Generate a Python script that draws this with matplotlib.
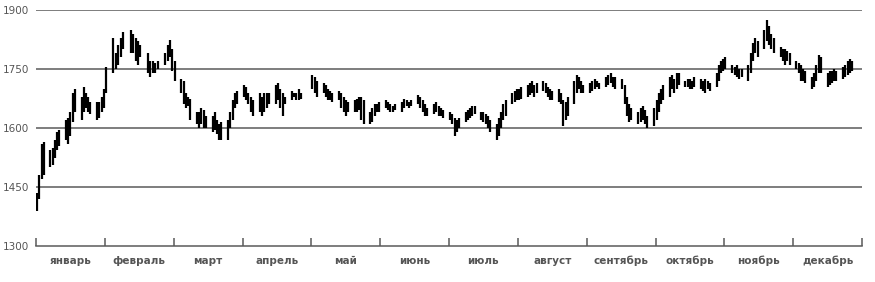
import numpy as np
import pandas as pd
import matplotlib
matplotlib.use('Agg')
import matplotlib.pyplot as plt

months = ['январь', 'февраль', 'март', 'апрель', 'май', 'июнь',
          'июль', 'август', 'сентябрь', 'октябрь', 'ноябрь', 'декабрь']
yticks = [1300, 1450, 1600, 1750, 1900]

# trading days (weekdays), nan = no bar
days = pd.bdate_range('2013-01-01', '2013-12-31')

low = [
    # jan
    1388, 1420, 1470, 1480, 1500, 1505, 1525, 1545, 1555, 1570, 1560, 1580,
    1615, 1640, 1620, 1640, 1650, 1640, 1635, 1620, 1625, 1640, 1650,
    # feb
    1690, 1740, 1750, 1760, 1780, 1800, 1790, 1790, 1770, 1760, 1780, 1740,
    1730, 1740, 1740, 1750, 1760, 1770, 1780, 1745,
    # mar
    1720, 1690, 1660, 1650, 1655, 1620, 1610, 1600, 1610, 1600, 1600, 1590,
    1595, 1585, 1570, 1570, 1570, 1600, 1620, 1650, 1660,
    # apr
    1680, 1670, 1660, 1640, 1630, 1640, 1630, 1640, 1650, 1660, 1660, 1670,
    1650, 1630, 1660, 1670, 1680, 1670, 1670, 1675, np.nan, np.nan,
    # may
    1700, 1690, 1680, 1690, 1680, 1670, 1670, 1665, 1670, 1650, 1640, 1630,
    1640, 1640, 1640, 1645, 1620, 1610, 1610, 1615, 1630, 1640, 1640,
    # jun
    1650, 1645, 1640, 1640, 1645, 1640, 1650, 1655, 1650, 1655, 1660, 1650,
    1640, 1630, 1630, 1635, 1640, 1630, 1630, 1625,
    # jul
    1620, 1610, 1580, 1590, 1600, 1615, 1620, 1625, 1630, 1635, 1620, 1615,
    1610, 1600, 1590, 1570, 1580, 1600, 1620, 1630, 1660, 1665, 1670,
    # aug
    1670, 1675, 1680, 1685, 1690, 1680, 1690, 1695, 1690, 1680, 1670, 1670,
    1665, 1660, 1605, 1620, 1630, 1660, 1690, 1700, 1690, 1690,
    # sep
    1690, 1695, 1700, 1705, 1700, 1705, 1710, 1715, 1705, 1700, 1700, 1660,
    1630, 1615, 1620, 1610, 1615, 1620, 1610, 1600, 1605,
    # oct
    1620, 1640, 1660, 1670, 1680, 1700, 1690, 1700, 1710, 1705, 1705, 1700,
    1700, 1705, 1700, 1695, 1690, 1700, 1695, 1705, 1720, 1740, 1745,
    # nov
    1750, 1740, 1735, 1730, 1725, 1730, 1720, 1740, 1770, 1790, 1780, 1800,
    1820, 1810, 1800, 1790, 1780, 1770, 1760, 1770, 1760,
    # dec
    1750, 1740, 1720, 1720, 1715, 1700, 1705, 1720, 1740, 1740, 1705, 1710,
    1715, 1720, 1720, 1725, 1730, 1735, 1740, 1745, np.nan, np.nan,
]
high = [
    # jan
    1435, 1480, 1560, 1565, 1545, 1550, 1570, 1590, 1595, 1620, 1625, 1640,
    1690, 1700, 1680, 1705, 1690, 1680, 1665, 1665, 1665, 1680, 1700,
    # feb
    1755, 1830, 1790, 1810, 1830, 1845, 1850, 1840, 1830, 1820, 1810, 1790,
    1770, 1770, 1765, 1770, 1790, 1810, 1825, 1800,
    # mar
    1770, 1725, 1720, 1690, 1680, 1675, 1640, 1640, 1650, 1645, 1630, 1630,
    1640, 1620, 1610, 1615, 1620, 1640, 1670, 1690, 1695,
    # apr
    1710, 1705, 1690, 1680, 1670, 1690, 1680, 1690, 1690, 1690, 1710, 1715,
    1700, 1690, 1680, 1695, 1690, 1690, 1700, 1690, np.nan, np.nan,
    # may
    1735, 1730, 1720, 1715, 1710, 1700, 1695, 1690, 1695, 1690, 1680, 1670,
    1665, 1670, 1675, 1680, 1680, 1670, 1640, 1650, 1660, 1660, 1665,
    # jun
    1670, 1665, 1660, 1655, 1660, 1665, 1675, 1670, 1665, 1670, 1685, 1680,
    1670, 1660, 1650, 1660, 1665, 1655, 1650, 1645,
    # jul
    1640, 1635, 1625, 1620, 1625, 1640, 1645, 1650, 1655, 1655, 1640, 1640,
    1635, 1630, 1620, 1610, 1625, 1640, 1660, 1670, 1690, 1695, 1700,
    # aug
    1700, 1705, 1710, 1715, 1720, 1710, 1715, 1720, 1715, 1705, 1700, 1695,
    1700, 1690, 1670, 1665, 1680, 1720, 1735, 1730, 1720, 1710,
    # sep
    1715, 1720, 1725, 1720, 1715, 1730, 1735, 1740, 1730, 1730, 1725, 1710,
    1680, 1660, 1650, 1640, 1650, 1655, 1645, 1630, 1650,
    # oct
    1670, 1690, 1700, 1710, 1730, 1735, 1725, 1740, 1740, 1720, 1725, 1725,
    1720, 1730, 1725, 1720, 1725, 1720, 1715, 1740, 1760, 1770, 1775,
    # nov
    1780, 1760, 1755, 1760, 1750, 1750, 1760, 1790, 1815, 1830, 1820, 1850,
    1875, 1860, 1840, 1830, 1805, 1800, 1800, 1795, 1790,
    # dec
    1770, 1765, 1760, 1750, 1745, 1730, 1740, 1760, 1785, 1780, 1740, 1745,
    1745, 1750, 1745, 1755, 1760, 1770, 1775, 1770, np.nan, np.nan,
]

# every month gets the same width on the axis
x = (days.month - 1) + (days.day - 0.5) / days.days_in_month

fig = plt.figure(figsize=(8.75, 2.82), dpi=100)
ax = fig.add_axes([36 / 875, 1 - 246 / 282, (862 - 36) / 875, 236 / 282])

for yv in yticks[1:]:
    ax.axhline(yv, color='#5a5a5a', lw=1.1, zorder=1)

ax.vlines(x, low, high, color='black', lw=1.6, zorder=3)

ax.set_xlim(0, 12)
ax.set_ylim(1300, 1900)
for s in ['top', 'right', 'left']:
    ax.spines[s].set_visible(False)
ax.spines['bottom'].set_color('#5a5a5a')
ax.spines['bottom'].set_linewidth(1.1)

ax.set_yticks(yticks)
ax.set_yticklabels([str(v) for v in yticks])
ax.tick_params(axis='y', length=0, pad=5, labelsize=7.5, labelcolor='#555555')

ax.set_xticks(np.arange(13))
ax.set_xticklabels([])
ax.set_xticks(np.arange(12) + 0.5, minor=True)
ax.set_xticklabels(months, minor=True, fontsize=7.5, fontweight='bold', color='#555555')
ax.tick_params(axis='x', which='major', direction='in', length=6, width=1.1, color='#5a5a5a')
ax.tick_params(axis='x', which='minor', length=0, pad=7)

fig.savefig('out.png', dpi=100, facecolor='white')
